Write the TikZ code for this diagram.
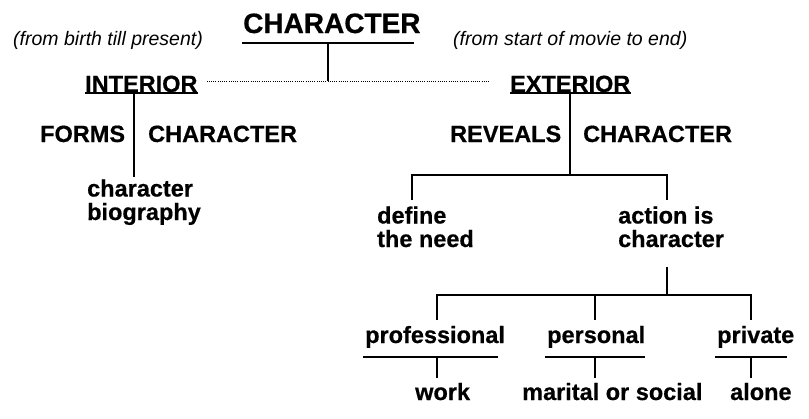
\documentclass[tikz,border=0pt]{standalone}
\usepackage{fontspec}
\setmainfont[BoldFeatures={FakeBold=0.6}]{Liberation Sans}
\begin{document}
\begin{tikzpicture}[x=1pt,y=-1pt,
  lbl/.style={inner sep=0pt, anchor=base west, align=left,
    font=\bfseries\fontsize{23.5}{23.5}\selectfont},
  biglbl/.style={inner sep=0pt, anchor=base west,
    font=\bfseries\fontsize{28}{30}\selectfont},
  ital/.style={inner sep=0pt, anchor=base west,
    font=\itshape\fontsize{19.5}{22}\selectfont},
  conn/.style={line width=2pt},
  uline/.style={line width=2pt},
  dotline/.style={line width=0.9pt, dash pattern=on 1pt off 1.2pt}]
\useasboundingbox (0,0) rectangle (809,418);

% texts
\node[biglbl] (char) at (243,33) {CHARACTER};
\node[ital] (birth) at (13,45) {(from birth till present)};
\node[ital] (start) at (453,45) {(from start of movie to end)};
\node[lbl] (int) at (85,92) {INTERIOR};
\node[lbl] (ext) at (510,92) {EXTERIOR};
\node[lbl] (forms) at (40,142) {FORMS};
\node[lbl] (fchar) at (148,142) {CHARACTER};
\node[lbl] (rev) at (450,142) {REVEALS};
\node[lbl] (rchar) at (583,142) {CHARACTER};
\node[lbl] (bio) at (87,220) {character\\biography};
\node[lbl] (need) at (377,247) {define\\the need};
\node[lbl] (act) at (618,247) {action is\\character};
\node[lbl] (prof) at (365,343) {professional};
\node[lbl] (pers) at (547,343) {personal};
\node[lbl] (priv) at (717,343) {private};
\node[lbl] (work) at (415,400) {work};
\node[lbl] (mar) at (522,400) {marital or social};
\node[lbl] (alone) at (730,400) {alone};

% underlines
\draw[uline] ([shift={(-1,10)}]char.base west) -- ([shift={(-7,10)}]char.base east);
\draw[uline] ([yshift=-1pt]int.base west) -- ([yshift=-1pt]int.base east);
\draw[uline] ([yshift=-1pt]ext.base west) -- ([yshift=-1pt]ext.base east);
\draw[uline] ([shift={(-2,14)}]prof.base west) -- ([shift={(-7,14)}]prof.base east);
\draw[uline] ([shift={(-2,14)}]pers.base west) -- ([shift={(0,14)}]pers.base east);
\draw[uline] ([shift={(-2,14)}]priv.base west) -- ([shift={(-7,14)}]priv.base east);

% top junction
\coordinate (cTop) at (328,43);
\coordinate (cMid) at (328,81);
\draw[conn] (cTop) -- (cMid);
\draw[dotline] ([shift={(9,-11)}]int.base east) -- ([shift={(-20,-11)}]ext.base west);

% interior branch
\coordinate (iTop) at (134,93);
\coordinate (iBot) at (134,177);
\draw[conn] (iTop) -- (iBot);

% exterior branch
\coordinate (eTop) at (570,93);
\coordinate (eJ) at (570,175);
\coordinate (eL) at (412,175);
\coordinate (eR) at (667,175);
\coordinate (eLd) at (412,200);
\coordinate (eRd) at (667,200);
\draw[conn] (eTop) -- (eJ);
\draw[conn] (eLd) -- (eL) -- (eR) -- (eRd);

% action branch
\coordinate (aTop) at (667,267);
\coordinate (aJ) at (667,295);
\coordinate (aL) at (437,295);
\coordinate (aLd) at (437,320);
\coordinate (aM) at (595,295);
\coordinate (aMd) at (595,320);
\coordinate (aRd) at (751,320);
\coordinate (aR) at (751,295);
\draw[conn] (aTop) -- (aJ);
\draw[conn] (aLd) -- (aL) -- (aR) -- (aRd);
\draw[conn] (aM) -- (aMd);

% lower drops
\coordinate (p1) at (437,357);
\coordinate (p1d) at (437,378);
\coordinate (p2) at (595,357);
\coordinate (p2d) at (595,378);
\coordinate (p3) at (751,357);
\coordinate (p3d) at (751,378);
\draw[conn] (p1) -- (p1d);
\draw[conn] (p2) -- (p2d);
\draw[conn] (p3) -- (p3d);
\end{tikzpicture}
\end{document}
